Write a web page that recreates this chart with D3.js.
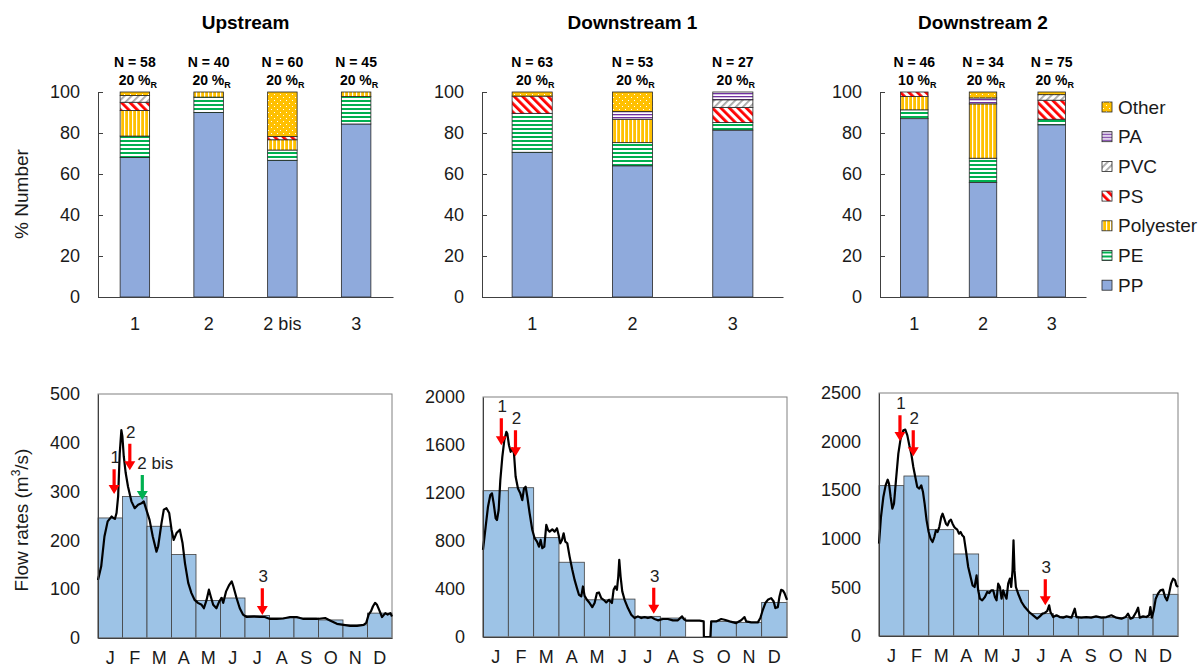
<!DOCTYPE html>
<html>
<head>
<meta charset="utf-8">
<script src="https://cdn.jsdelivr.net/npm/d3@7"></script>
<style>
  body { margin: 0; background: #fff; }
  svg { font-family: Arial, "Liberation Sans", sans-serif; }
</style>
</head>
<body>
<svg id="chart" width="1202" height="668"></svg>
<script>
// ---- composition data (% number per polymer) ----
const polymers = ["PP", "PE", "Polyester", "PS", "PVC", "PA", "Other"];
const legendOrder = ["Other", "PA", "PVC", "PS", "Polyester", "PE", "PP"];

const upSites = ["1", "2", "2 bis", "3"];
const upN = [58, 40, 60, 45];
const upR = [20, 20, 20, 20];
const upComp = [
  [68, 10.5, 12.5, 4, 3.3, 0, 1.7],
  [90, 7.5, 2.5, 0, 0, 0, 0],
  [66.7, 5, 5, 1.6, 0, 0, 21.7],
  [84.4, 13.4, 2.2, 0, 0, 0, 0]
];

const ds1Sites = ["1", "2", "3"];
const ds1N = [63, 53, 27];
const ds1R = [20, 20, 20];
const ds1Comp = [
  [70.6, 19, 0, 8.4, 0, 0, 2],
  [64, 11.3, 11.4, 0, 0, 3.8, 9.5],
  [81.4, 3.7, 0, 7.4, 3.7, 3.8, 0]
];

const ds2Sites = ["1", "2", "3"];
const ds2N = [46, 34, 75];
const ds2R = [10, 20, 20];
const ds2Comp = [
  [87, 4.3, 6.5, 2.2, 0, 0, 0],
  [55.9, 11.8, 26.5, 0, 0, 2.9, 2.9],
  [84, 2.7, 0, 9.3, 2.7, 0, 1.3]
];

// ---- flow data ----
const months = ["J", "F", "M", "A", "M", "J", "J", "A", "S", "O", "N", "D"];
const upMonthly = [246, 290, 229, 171, 77, 82, 46, 41, 41, 37, 27, 51];
const ds1Monthly = [1219, 1244, 828, 623, 310, 316, 172, 158, null, 130, 122, 288];
const ds2Monthly = [1547, 1646, 1094, 844, 470, 470, 230, 202, 195, 189, 189, 429];

// daily flow, [day of year, m3/s]
const upFlow = [[0,119],[4,147],[8,208],[12,239],[17,249],[19,246],[21,244],[23,256],[25,290],[27,379],[29,426],[30.3,413],[32,372],[34.4,338],[37.3,310],[41.5,280],[45.6,266],[49.8,273],[54,276],[56.8,280],[60,263],[64,242],[68,208],[72.6,177],[74.7,188],[78.8,235],[81.7,263],[85,266],[88.4,256],[91.3,222],[94,201],[97.5,215],[101.6,222],[105,194],[108,153],[112,113],[116,92],[120,78],[124,72],[128.6,68],[131.5,61],[134.8,78],[137.7,99],[140,85],[143,68],[147,61],[150.6,75],[153.5,82],[155.5,72],[158.9,95],[163,109],[166,116],[168,106],[172,82],[176,61],[180,48],[184.6,43],[193,44],[201,43],[207,43],[213.6,39],[222,39],[230,40],[238.5,43],[246.8,43],[255,39],[263,39],[271.7,39],[282,41],[288,36],[296.6,29],[305,27],[313,25],[321.5,25],[329.8,27],[333,31],[336,48],[339,55],[341.4,65],[344,72],[346.4,68],[349.7,55],[352.6,43],[356.7,51],[359.6,48],[363,51],[365,44]];

const ds1Flow = [[0,726],[3.2,920],[6,1086],[8.8,1183],[10.8,1197],[12.8,1114],[15.2,989],[16.8,975],[18.8,1058],[20.8,1307],[23.2,1501],[25.6,1640],[28,1709],[29.2,1695],[31.2,1598],[33.2,1543],[35.2,1571],[37.2,1529],[39.2,1335],[42,1238],[44.8,1197],[47.2,1141],[49.2,1238],[51.2,1252],[53.2,1169],[56,1030],[59.2,892],[62,823],[64.8,795],[67.2,753],[69.2,809],[71.2,740],[73.6,753],[76,934],[78,892],[80,878],[83.2,897],[86,878],[88.8,906],[90.8,850],[92.8,781],[94.8,809],[96.8,864],[98.8,795],[101.2,781],[104,670],[107.2,560],[110,476],[112.8,407],[115.2,352],[118,338],[120,421],[122,343],[124.8,310],[128,283],[131.2,249],[134,283],[136.8,366],[139.2,371],[142,324],[144.8,310],[148,288],[151.2,310],[154.8,283],[156.8,393],[158.8,421],[160.8,393],[162.4,504],[163.6,643],[165.2,504],[167.2,380],[170,310],[174,241],[178,186],[182,158],[186,172],[190,158],[194,166],[198,158],[202,166],[206,150],[210,139],[216,150],[222,150],[228,139],[234,139],[239,172],[241,150],[244,136],[252,136],[260,136],[265,130],[265.2,0],[273,0],[274,130],[280,130],[286,150],[290,144],[296,130],[304,116],[310,139],[314,166],[316,130],[322,122],[330,122],[333,158],[336,227],[339,283],[342,310],[346,324],[349,296],[351,241],[354,249],[356,338],[358,393],[360,388],[362,366],[365,310]];

const ds2Flow = [[0,950],[2.4,1224],[5.3,1430],[8.1,1550],[10.6,1608],[12.2,1567],[14.2,1430],[16.3,1310],[18.3,1361],[20.7,1601],[23.6,1876],[26.4,2030],[29.7,2116],[32.1,2123],[34.6,2064],[37,1962],[39.4,1876],[41.9,1739],[44.3,1636],[46.7,1533],[49.2,1516],[51.6,1550],[53.7,1481],[55.7,1361],[58.1,1190],[60.6,1070],[63,1001],[65.4,967],[67.5,1018],[69.5,1087],[71.5,1070],[73.6,1121],[76,1224],[77.6,1258],[79.7,1207],[81.7,1156],[83.7,1138],[85.8,1183],[87.8,1197],[89.8,1156],[91.9,1121],[93.9,1104],[95.5,1094],[97.6,1053],[99.6,1070],[101.6,1036],[103.7,1018],[106.1,881],[108.9,710],[111.8,607],[114.2,521],[116.7,504],[119.1,624],[121.1,470],[123.2,384],[126,367],[129.3,401],[132.1,453],[134.6,442],[137,470],[139.4,470],[141.5,401],[143.5,367],[145.5,538],[147.6,504],[149.6,384],[151.6,470],[153.7,418],[155.7,384],[157.7,538],[159.8,590],[161.4,504],[163,675],[164.2,984],[165.4,675],[167.1,504],[169.9,435],[174,350],[178,298],[183.3,247],[188.2,213],[193,178],[196.3,202],[199.6,230],[202.4,237],[205.3,257],[207.7,316],[209.3,247],[212.6,195],[216.7,213],[220.7,195],[224.8,189],[228.9,202],[235,189],[239,281],[241,195],[247,189],[253,195],[259,189],[265,202],[271.5,189],[277.6,195],[283.7,213],[289.8,189],[296,178],[301,195],[304,230],[307,178],[310,189],[314,247],[316.3,291],[318.3,189],[322.4,202],[326.4,195],[329.7,213],[331.3,298],[333,189],[335.4,264],[337.8,384],[340.6,435],[343.5,470],[346.7,477],[349.2,401],[351.6,367],[354,435],[356.5,538],[359,590],[361.4,573],[363,521],[365,504]];

// sampling arrows: day, flow at arrow top, flow at arrow tip
const upArrows = [
  { label: "1", day: 20, from: 346, to: 295, kind: "sample" },
  { label: "2", day: 39.5, from: 398, to: 344, kind: "sample" },
  { label: "2 bis", day: 55, from: 334, to: 283, kind: "extra" },
  { label: "3", day: 204, from: 102, to: 47, kind: "sample" }
];
const ds1Arrows = [
  { label: "1", day: 22, from: 1823, to: 1598, kind: "sample" },
  { label: "2", day: 39, from: 1723, to: 1507, kind: "sample" },
  { label: "3", day: 205, from: 410, to: 194, kind: "sample" }
];
const ds2Arrows = [
  { label: "1", day: 25.6, from: 2270, to: 2006, kind: "sample" },
  { label: "2", day: 41.8, from: 2116, to: 1849, kind: "sample" },
  { label: "3", day: 203, from: 583, to: 316, kind: "sample" }
];

const svg = d3.select("#chart");

// ---- fill patterns ----
const defs = svg.append("defs");
function pattern(id, w, h, bg, draw, transform) {
  const p = defs.append("pattern")
    .attr("id", id)
    .attr("patternUnits", "userSpaceOnUse")
    .attr("width", w)
    .attr("height", h);
  if (transform) p.attr("patternTransform", transform);
  p.append("rect").attr("width", w).attr("height", h).attr("fill", bg);
  draw(p);
}
pattern("pe", 4, 4, "#fff", p => p.append("rect").attr("width", 4).attr("height", 2).attr("fill", "#00B050"));
pattern("polyester", 4, 4, "#FFC000", p => p.append("rect").attr("width", 1.2).attr("height", 4).attr("fill", "#fff"));
pattern("ps", 6, 6, "#fff", p => p.append("rect").attr("width", 2.8).attr("height", 6).attr("fill", "#FF0000"), "rotate(-45)");
pattern("pvc", 5, 5, "#fff", p => p.append("rect").attr("width", 1.8).attr("height", 5).attr("fill", "#A6A6A6"), "rotate(45)");
pattern("pa", 3, 3, "#fff", p => p.append("rect").attr("width", 3).attr("height", 1.3).attr("fill", "#7030A0"));
pattern("other", 6, 6, "#FFC000", p => {
  p.append("rect").attr("x", 1).attr("y", 1).attr("width", 1).attr("height", 1).attr("fill", "#fff");
  p.append("rect").attr("x", 4).attr("y", 4).attr("width", 1).attr("height", 1).attr("fill", "#fff");
});

const fills = {
  PP: "#8FAADC",
  PE: "url(#pe)",
  Polyester: "url(#polyester)",
  PS: "url(#ps)",
  PVC: "url(#pvc)",
  PA: "url(#pa)",
  Other: "url(#other)"
};

function styleAxis(g, size) {
  g.attr("font-family", null).attr("font-size", size);
  g.selectAll("text").attr("fill", "#1a1a1a");
  g.selectAll("line").attr("stroke", "#404040");
  g.select(".domain").attr("stroke", "#404040");
}

// ---- top: stacked composition bars ----
const topLayout = [
  { x0: 98, x1: 393 },
  { x0: 482, x1: 783 },
  { x0: 880, x1: 1086 }
];
const topY0 = 297, topY1 = 92;

function drawTop(i, title, sites, ns, rs, comp) {
  const L = topLayout[i];
  const g = svg.append("g");
  const x = d3.scaleBand().domain(sites).range([L.x0, L.x1]).paddingInner(0.6).paddingOuter(0.3);
  const y = d3.scaleLinear().domain([0, 100]).range([topY0, topY1]);

  const rows = comp.map((c, j) => {
    const o = { site: sites[j] };
    polymers.forEach((p, k) => o[p] = c[k]);
    return o;
  });
  const series = d3.stack().keys(polymers)(rows);

  g.selectAll("g.layer")
    .data(series)
    .join("g")
    .attr("class", "layer")
    .attr("fill", d => fills[d.key])
    .selectAll("rect")
    .data(d => d.filter(s => s[1] - s[0] > 0))
    .join("rect")
    .attr("x", d => x(d.data.site))
    .attr("width", x.bandwidth())
    .attr("y", d => y(d[1]))
    .attr("height", d => y(d[0]) - y(d[1]))
    .attr("stroke", "#262626")
    .attr("stroke-width", 0.8);

  g.append("g")
    .attr("transform", `translate(${L.x0},0)`)
    .call(d3.axisLeft(y).tickValues(d3.range(0, 101, 20)).tickSize(-5).tickSizeOuter(0).tickPadding(18))
    .call(a => styleAxis(a, 18));

  g.append("g")
    .attr("transform", `translate(0,${topY0})`)
    .call(d3.axisBottom(x).tickSize(0).tickPadding(20))
    .call(a => styleAxis(a, 18));

  g.append("text")
    .attr("x", (L.x0 + L.x1) / 2)
    .attr("y", 29)
    .attr("text-anchor", "middle")
    .attr("font-weight", "bold")
    .attr("font-size", 19)
    .text(title);

  const lab = g.selectAll("g.nlab")
    .data(sites)
    .join("g")
    .attr("class", "nlab")
    .attr("font-weight", "bold")
    .attr("text-anchor", "middle");
  lab.append("text")
    .attr("x", d => x(d) + x.bandwidth() / 2)
    .attr("y", 67)
    .attr("font-size", 14)
    .text((d, j) => `N = ${ns[j]}`);
  const t2 = lab.append("text")
    .attr("x", d => x(d) + x.bandwidth() / 2 + 3)
    .attr("y", 85)
    .attr("font-size", 14);
  t2.append("tspan").text((d, j) => `${rs[j]} %`);
  t2.append("tspan").attr("font-size", 9).attr("dy", 3).text("R");
}

drawTop(0, "Upstream", upSites, upN, upR, upComp);
drawTop(1, "Downstream 1", ds1Sites, ds1N, ds1R, ds1Comp);
drawTop(2, "Downstream 2", ds2Sites, ds2N, ds2R, ds2Comp);

// legend
const leg = svg.append("g")
  .selectAll("g")
  .data(legendOrder)
  .join("g")
  .attr("transform", (d, i) => `translate(1102,${107 + i * 29.7})`);
leg.append("rect")
  .attr("x", 0).attr("y", -5).attr("width", 10).attr("height", 10)
  .attr("fill", d => fills[d])
  .attr("stroke", "#262626").attr("stroke-width", 0.8);
leg.append("text")
  .attr("x", 16).attr("dy", "0.35em")
  .attr("font-size", 19)
  .attr("fill", "#1a1a1a")
  .text(d => d);

svg.append("text")
  .attr("transform", "translate(28,194) rotate(-90)")
  .attr("text-anchor", "middle")
  .attr("font-size", 19)
  .attr("fill", "#1a1a1a")
  .text("% Number");

// ---- bottom: flow rates ----
const flowLayout = [
  { x0: 98, x1: 392, y0: 638, y1: 394, max: 500, step: 100 },
  { x0: 483, x1: 787, y0: 637, y1: 397, max: 2000, step: 400 },
  { x0: 879, x1: 1178, y0: 636, y1: 393, max: 2500, step: 500 }
];

function drawFlow(i, monthly, flow, arrows) {
  const L = flowLayout[i];
  const g = svg.append("g");
  const xb = d3.scaleBand().domain(d3.range(12)).range([L.x0, L.x1]);
  const xd = d3.scaleLinear().domain([0, 365]).range([L.x0, L.x1]);
  const y = d3.scaleLinear().domain([0, L.max]).range([L.y0, L.y1]);

  g.selectAll("rect.month")
    .data(monthly.map((v, k) => ({ k, v })).filter(d => d.v != null))
    .join("rect")
    .attr("class", "month")
    .attr("x", d => xb(d.k))
    .attr("width", xb.bandwidth())
    .attr("y", d => y(d.v))
    .attr("height", d => y(0) - y(d.v))
    .attr("fill", "#9DC3E6")
    .attr("stroke", "#404040")
    .attr("stroke-width", 0.8);

  g.append("rect")
    .attr("x", L.x0).attr("y", L.y1)
    .attr("width", L.x1 - L.x0).attr("height", L.y0 - L.y1)
    .attr("fill", "none").attr("stroke", "#808080").attr("stroke-width", 1);

  g.append("path")
    .datum(flow)
    .attr("fill", "none")
    .attr("stroke", "#000")
    .attr("stroke-width", 2.2)
    .attr("stroke-linejoin", "round")
    .attr("d", d3.line().x(d => xd(d[0])).y(d => y(d[1])));

  g.append("g")
    .attr("transform", `translate(${L.x0},0)`)
    .call(d3.axisLeft(y).tickValues(d3.range(0, L.max + 1, L.step)).tickFormat(d3.format("d")).tickSize(0).tickPadding(18))
    .call(a => styleAxis(a, 18));

  g.append("g")
    .attr("transform", `translate(0,${L.y0})`)
    .call(d3.axisBottom(xb).tickSize(0).tickPadding(13).tickFormat(k => months[k]))
    .call(a => styleAxis(a, 18));

  const ar = g.selectAll("g.arrow").data(arrows).join("g").attr("class", "arrow");
  ar.append("path")
    .attr("fill", d => d.kind === "extra" ? "#00B050" : "#FF0000")
    .attr("d", d => {
      const x = xd(d.day), ya = y(d.from), yb = y(d.to), h = 9;
      return `M${x - 1.6},${ya}L${x + 1.6},${ya}L${x + 1.6},${yb - h}L${x + 5.5},${yb - h}L${x},${yb}L${x - 5.5},${yb - h}L${x - 1.6},${yb - h}Z`;
    });
  ar.append("text")
    .attr("x", d => d.label.length > 1 ? xd(d.day) - 5 : xd(d.day) + 1)
    .attr("y", d => y(d.from) - 6)
    .attr("text-anchor", d => d.label.length > 1 ? "start" : "middle")
    .attr("font-size", 17)
    .attr("fill", "#222")
    .text(d => d.label);
}

drawFlow(0, upMonthly, upFlow, upArrows);
drawFlow(1, ds1Monthly, ds1Flow, ds1Arrows);
drawFlow(2, ds2Monthly, ds2Flow, ds2Arrows);

const fl = svg.append("text")
  .attr("transform", "translate(28,520) rotate(-90)")
  .attr("text-anchor", "middle")
  .attr("font-size", 19)
  .attr("fill", "#1a1a1a");
fl.append("tspan").text("Flow rates (m");
fl.append("tspan").attr("font-size", 12).attr("dy", -8).text("3");
fl.append("tspan").attr("dy", 8).text("/s)");
</script>
</body>
</html>
